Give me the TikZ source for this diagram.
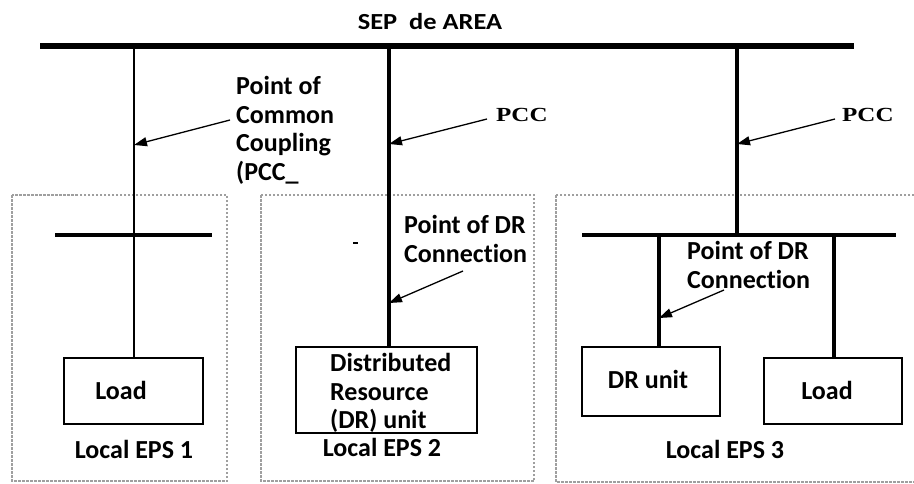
\documentclass[tikz,border=0pt]{standalone}
\usepackage{fontspec}
\setmainfont{Carlito}[Ligatures=NoCommon]
\newfontfamily\titlefont{Carlito}[FakeStretch=1.15]
\newfontfamily\pccfont{Liberation Serif}[FakeStretch=1.25]
\usetikzlibrary{arrows.meta}

\tikzset{
  lbl/.style={font=\fontsize{26}{28.5}\selectfont\bfseries, inner sep=0pt, align=left},
  title/.style={font=\titlefont\fontsize{23}{26}\selectfont\bfseries, inner sep=0pt},
  pcc/.style={font=\pccfont\bfseries\fontsize{20}{22}\selectfont, inner sep=0pt},
  unitbox/.style={draw, line width=1.6pt, inner sep=0pt, anchor=north west},
  mainbus/.style={line width=6pt},
  subbus/.style={line width=4pt},
  feeder/.style={line width=3.6pt},
  thinfeeder/.style={line width=1.8pt},
  ptr/.style={line width=1.3pt, -{Triangle[length=13pt,width=9pt]}},
  zone/.style={draw=gray!75, line width=1.3pt, dash pattern=on 2.5pt off 1.5pt}
}

\begin{document}
\begin{tikzpicture}[x=1pt, y=-1pt]
  \useasboundingbox (0,0) rectangle (914,483);
  \clip (0,0) rectangle (914,483);

  % local EPS zones
  \draw[zone] (12,195) rectangle (227,481);
  \draw[zone] (261,195) rectangle (534,481);
  \draw[zone] (556,195) rectangle (930,482);

  % area EPS bus
  \node[title] (sep) at (430,22) {SEP\ \ de AREA};
  \coordinate (busL) at (40,46);
  \coordinate (busR) at (854,46);
  \draw[mainbus] (busL) -- (busR);
  \coordinate (tap1) at (134,46);
  \coordinate (tap2) at (389,46);
  \coordinate (tap3) at (737,46);

  % local buses
  \coordinate (bus1L) at (55,235);
  \coordinate (bus1R) at (212,235);
  \draw[subbus] (bus1L) -- (bus1R);
  \coordinate (bus3L) at (582,235);
  \coordinate (bus3R) at (896,235);
  \draw[subbus] (bus3L) -- (bus3R);

  % equipment boxes
  \node[unitbox, minimum width=139, minimum height=66] (load1) at (63,357) {};
  \node[unitbox, minimum width=181, minimum height=86] (dr2) at (295,346) {};
  \node[unitbox, minimum width=138, minimum height=69] (dr3) at (581,346) {};
  \node[unitbox, minimum width=138, minimum height=66] (load3) at (763,357) {};

  \node[lbl] (load1txt) at (121,390) {Load};
  \node[lbl, anchor=north west] (dr2txt) at (330,353.5) {Distributed\\Resource\\(DR) unit};
  \node[lbl] (dr3txt) at (648,379) {DR unit};
  \node[lbl] (load3txt) at (827,390) {Load};

  % feeders
  \draw[thinfeeder] (tap1) -- (load1.north -| tap1);
  \draw[feeder] (tap2) -- (dr2.north -| tap2);
  \draw[feeder] (tap3) -- (bus3L -| tap3);
  \coordinate (tap3a) at (659,235);
  \coordinate (tap3b) at (834,235);
  \draw[feeder] (tap3a) -- (dr3.north -| tap3a);
  \draw[feeder] (tap3b) -- (load3.north -| tap3b);

  % annotations
  \node[lbl, anchor=north west] (pcc1) at (236,76.5) {Point of\\Common\\Coupling\\(PCC\_};
  \node[pcc, anchor=west] (pcc2) at (496,115) {PCC};
  \node[pcc, anchor=west] (pcc3) at (842,115) {PCC};
  \node[lbl, anchor=north west] (conn2) at (404,215.5) {Point of DR\\Connection};
  \node[lbl, anchor=north west] (conn3) at (687,241.5) {Point of DR\\Connection};

  \coordinate (a1s) at (230,120);
  \coordinate (a1e) at (134,145);
  \coordinate (a2s) at (487,119);
  \coordinate (a2e) at (389,144);
  \coordinate (a3s) at (835,119);
  \coordinate (a3e) at (737,144);
  \coordinate (a4s) at (463,271);
  \coordinate (a4e) at (389,303);
  \coordinate (a5s) at (724,290);
  \coordinate (a5e) at (659,318);
  \draw[ptr] (a1s) -- (a1e);
  \draw[ptr] (a2s) -- (a2e);
  \draw[ptr] (a3s) -- (a3e);
  \draw[ptr] (a4s) -- (a4e);
  \draw[ptr] (a5s) -- (a5e);

  % small stray mark
  \coordinate (mk1) at (353,243);
  \coordinate (mk2) at (358,243);
  \draw[line width=1.5pt] (mk1) -- (mk2);

  % zone labels
  \node[lbl] (eps1) at (134,449) {Local EPS 1};
  \node[lbl] (eps2) at (382,447) {Local EPS 2};
  \node[lbl] (eps3) at (725,449) {Local EPS 3};
\end{tikzpicture}
\end{document}
